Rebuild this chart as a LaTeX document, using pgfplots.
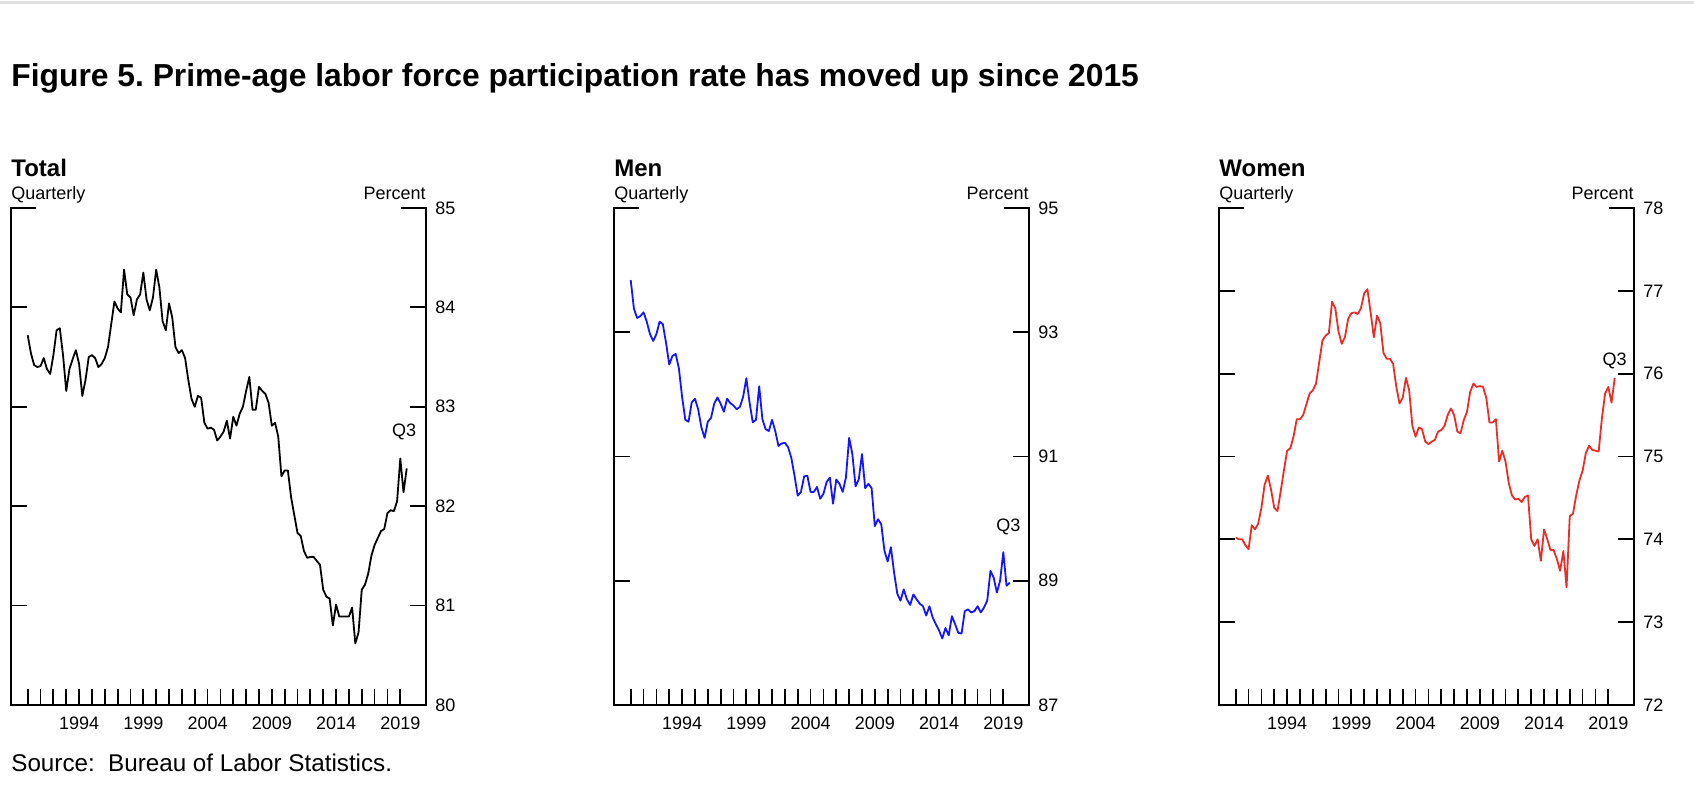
\documentclass[border=0pt]{standalone}
\usepackage{fontspec}
\setmainfont{Liberation Sans}
\usepackage{pgfplots}
\usepackage{pgfplotstable}
\pgfplotsset{compat=1.18}
\frenchspacing

\definecolor{menblue}{RGB}{20,20,255}
\definecolor{womenred}{RGB}{235,45,40}

% quarterly, 1990Q1 - 2019Q3
\pgfplotstableread{
t total men women
1990.00 83.72 93.84 74.02
1990.25 83.54 93.38 74.00
1990.50 83.42 93.23 74.00
1990.75 83.40 93.26 73.93
1991.00 83.41 93.32 73.88
1991.25 83.49 93.17 74.17
1991.50 83.38 92.97 74.12
1991.75 83.33 92.86 74.19
1992.00 83.52 92.97 74.38
1992.25 83.77 93.17 74.66
1992.50 83.79 93.13 74.77
1992.75 83.52 92.83 74.60
1993.00 83.16 92.48 74.38
1993.25 83.38 92.62 74.34
1993.50 83.48 92.65 74.58
1993.75 83.57 92.42 74.83
1994.00 83.43 91.96 75.07
1994.25 83.11 91.59 75.10
1994.50 83.27 91.56 75.24
1994.75 83.50 91.87 75.45
1995.00 83.52 91.93 75.45
1995.25 83.49 91.76 75.50
1995.50 83.40 91.47 75.63
1995.75 83.43 91.30 75.76
1996.00 83.49 91.56 75.80
1996.25 83.60 91.62 75.88
1996.50 83.83 91.85 76.14
1996.75 84.06 91.95 76.40
1997.00 83.99 91.85 76.46
1997.25 83.95 91.72 76.49
1997.50 84.38 91.93 76.87
1997.75 84.13 91.86 76.79
1998.00 84.10 91.82 76.51
1998.25 83.92 91.76 76.36
1998.50 84.08 91.80 76.44
1998.75 84.13 91.96 76.66
1999.00 84.35 92.26 76.73
1999.25 84.08 91.87 76.74
1999.50 83.97 91.55 76.72
1999.75 84.10 91.59 76.79
2000.00 84.38 92.13 76.97
2000.25 84.20 91.60 77.02
2000.50 83.86 91.44 76.74
2000.75 83.77 91.41 76.44
2001.00 84.04 91.59 76.70
2001.25 83.90 91.41 76.61
2001.50 83.60 91.17 76.25
2001.75 83.54 91.21 76.18
2002.00 83.57 91.22 76.18
2002.25 83.49 91.15 76.12
2002.50 83.27 90.98 75.84
2002.75 83.08 90.69 75.64
2003.00 83.00 90.37 75.71
2003.25 83.11 90.43 75.95
2003.50 83.09 90.68 75.80
2003.75 82.84 90.69 75.37
2004.00 82.78 90.43 75.24
2004.25 82.79 90.43 75.35
2004.50 82.77 90.51 75.33
2004.75 82.66 90.32 75.18
2005.00 82.70 90.40 75.15
2005.25 82.75 90.59 75.18
2005.50 82.86 90.66 75.20
2005.75 82.68 90.24 75.30
2006.00 82.90 90.63 75.32
2006.25 82.81 90.56 75.37
2006.50 82.93 90.43 75.50
2006.75 83.00 90.66 75.58
2007.00 83.16 91.30 75.50
2007.25 83.30 91.04 75.30
2007.50 82.97 90.52 75.28
2007.75 82.97 90.63 75.44
2008.00 83.20 91.04 75.54
2008.25 83.16 90.49 75.78
2008.50 83.13 90.56 75.88
2008.75 83.04 90.49 75.84
2009.00 82.81 89.88 75.85
2009.25 82.84 89.99 75.84
2009.50 82.70 89.91 75.71
2009.75 82.30 89.48 75.41
2010.00 82.36 89.31 75.41
2010.25 82.36 89.54 75.45
2010.50 82.09 89.13 74.94
2010.75 81.91 88.79 75.07
2011.00 81.73 88.68 74.94
2011.25 81.70 88.86 74.68
2011.50 81.55 88.70 74.53
2011.75 81.48 88.61 74.48
2012.00 81.49 88.78 74.49
2012.25 81.49 88.70 74.45
2012.50 81.45 88.63 74.51
2012.75 81.41 88.59 74.53
2013.00 81.16 88.44 74.00
2013.25 81.09 88.59 73.92
2013.50 81.07 88.41 74.00
2013.75 80.80 88.30 73.74
2014.00 81.01 88.20 74.12
2014.25 80.89 88.07 74.00
2014.50 80.89 88.24 73.87
2014.75 80.89 88.12 73.87
2015.00 80.89 88.43 73.76
2015.25 80.98 88.30 73.62
2015.50 80.62 88.16 73.86
2015.75 80.73 88.15 73.42
2016.00 81.16 88.51 74.28
2016.25 81.21 88.54 74.31
2016.50 81.32 88.49 74.53
2016.75 81.50 88.51 74.71
2017.00 81.61 88.59 74.83
2017.25 81.68 88.49 75.04
2017.50 81.75 88.57 75.13
2017.75 81.77 88.68 75.08
2018.00 81.93 89.16 75.07
2018.25 81.96 89.05 75.06
2018.50 81.95 88.81 75.46
2018.75 82.05 89.00 75.76
2019.00 82.48 89.46 75.84
2019.25 82.14 88.92 75.65
2019.50 82.38 88.97 75.95
}\lfpr

\pgfplotsset{
  panel/.style={
    scale only axis, width=207.5pt, height=248.5pt,
    xmin=1988.7, xmax=2021,
    axis line style={draw=none},
    tick align=inside, major tick length=8.2pt, minor tick length=8.2pt,
    xtick={1994,1999,...,2019}, minor xtick={1990,...,2019},
    xtick pos=lower, ytick pos=both, yticklabel pos=upper,
    tick style={black, line width=0.9pt},
    ticklabel style={font=\fontsize{9}{10}\selectfont},
    /pgf/number format/assume math mode=true,
    /pgf/number format/1000 sep={},
    xticklabel style={inner sep=0pt, anchor=north, yshift=-6pt},
    yticklabel style={inner sep=0pt, anchor=west, xshift=4.5pt},
    clip=false,
    every axis plot/.append style={line width=0.9pt, no markers, line join=round},
  },
}
\tikzset{panelframe/.style={line width=1pt, black, line cap=rect}}
\newcommand{\panelframe}{%
  \draw[panelframe] ([xshift=12pt]rel axis cs:0,1) -- (rel axis cs:0,1) -- (rel axis cs:0,0)
    -- (rel axis cs:1,0) -- (rel axis cs:1,1) -- ([xshift=-12pt]rel axis cs:1,1);}

\begin{document}
\begin{tikzpicture}
\path[use as bounding box] (0,0) rectangle (847pt,-395pt);
\draw[black!12, line width=1.5pt] (0,-1.2pt) -- (847pt,-1.2pt);

\node[anchor=base west, inner sep=0pt, font=\fontsize{15.9}{18}\selectfont\bfseries]
  at (5.5pt,-43.5pt) {Figure 5. Prime-age labor force participation rate has moved up since 2015};

% panel headings
\foreach \xl/\xr/\name in {5.5/213/Total, 307/514.5/Men, 609.5/817/Women}{
  \node[anchor=base west, inner sep=0pt, font=\fontsize{12}{14}\selectfont\bfseries] at (\xl pt,-88.5pt) {\name};
  \node[anchor=base west, inner sep=0pt, font=\fontsize{9}{10}\selectfont] at (\xl pt,-100pt) {Quarterly};
  \node[anchor=base east, inner sep=0pt, font=\fontsize{9}{10}\selectfont] at (\xr pt,-100pt) {Percent};
}

\begin{axis}[panel, at={(5.5pt,-352.5pt)}, anchor=south west,
  ymin=80, ymax=85, ytick={80,...,85}]
  \addplot[black] table[x=t, y=total] {\lfpr};
  \node[font=\fontsize{9}{10}\selectfont] at (axis cs:2019.3,82.75) {Q3};
  \panelframe
\end{axis}

\begin{axis}[panel, at={(307pt,-352.5pt)}, anchor=south west,
  ymin=87, ymax=95, ytick={87,89,...,95}]
  \addplot[menblue] table[x=t, y=men] {\lfpr};
  \node[font=\fontsize{9}{10}\selectfont] at (axis cs:2019.4,89.87) {Q3};
  \panelframe
\end{axis}

\begin{axis}[panel, at={(609.5pt,-352.5pt)}, anchor=south west,
  ymin=72, ymax=78, ytick={72,...,78}]
  \addplot[womenred] table[x=t, y=women] {\lfpr};
  \node[font=\fontsize{9}{10}\selectfont] at (axis cs:2019.5,76.15) {Q3};
  \panelframe
\end{axis}

\node[anchor=base west, inner sep=0pt, font=\fontsize{12.1}{14}\selectfont]
  at (5.5pt,-386pt) {Source:\ \ Bureau of Labor Statistics.};
\end{tikzpicture}
\end{document}
